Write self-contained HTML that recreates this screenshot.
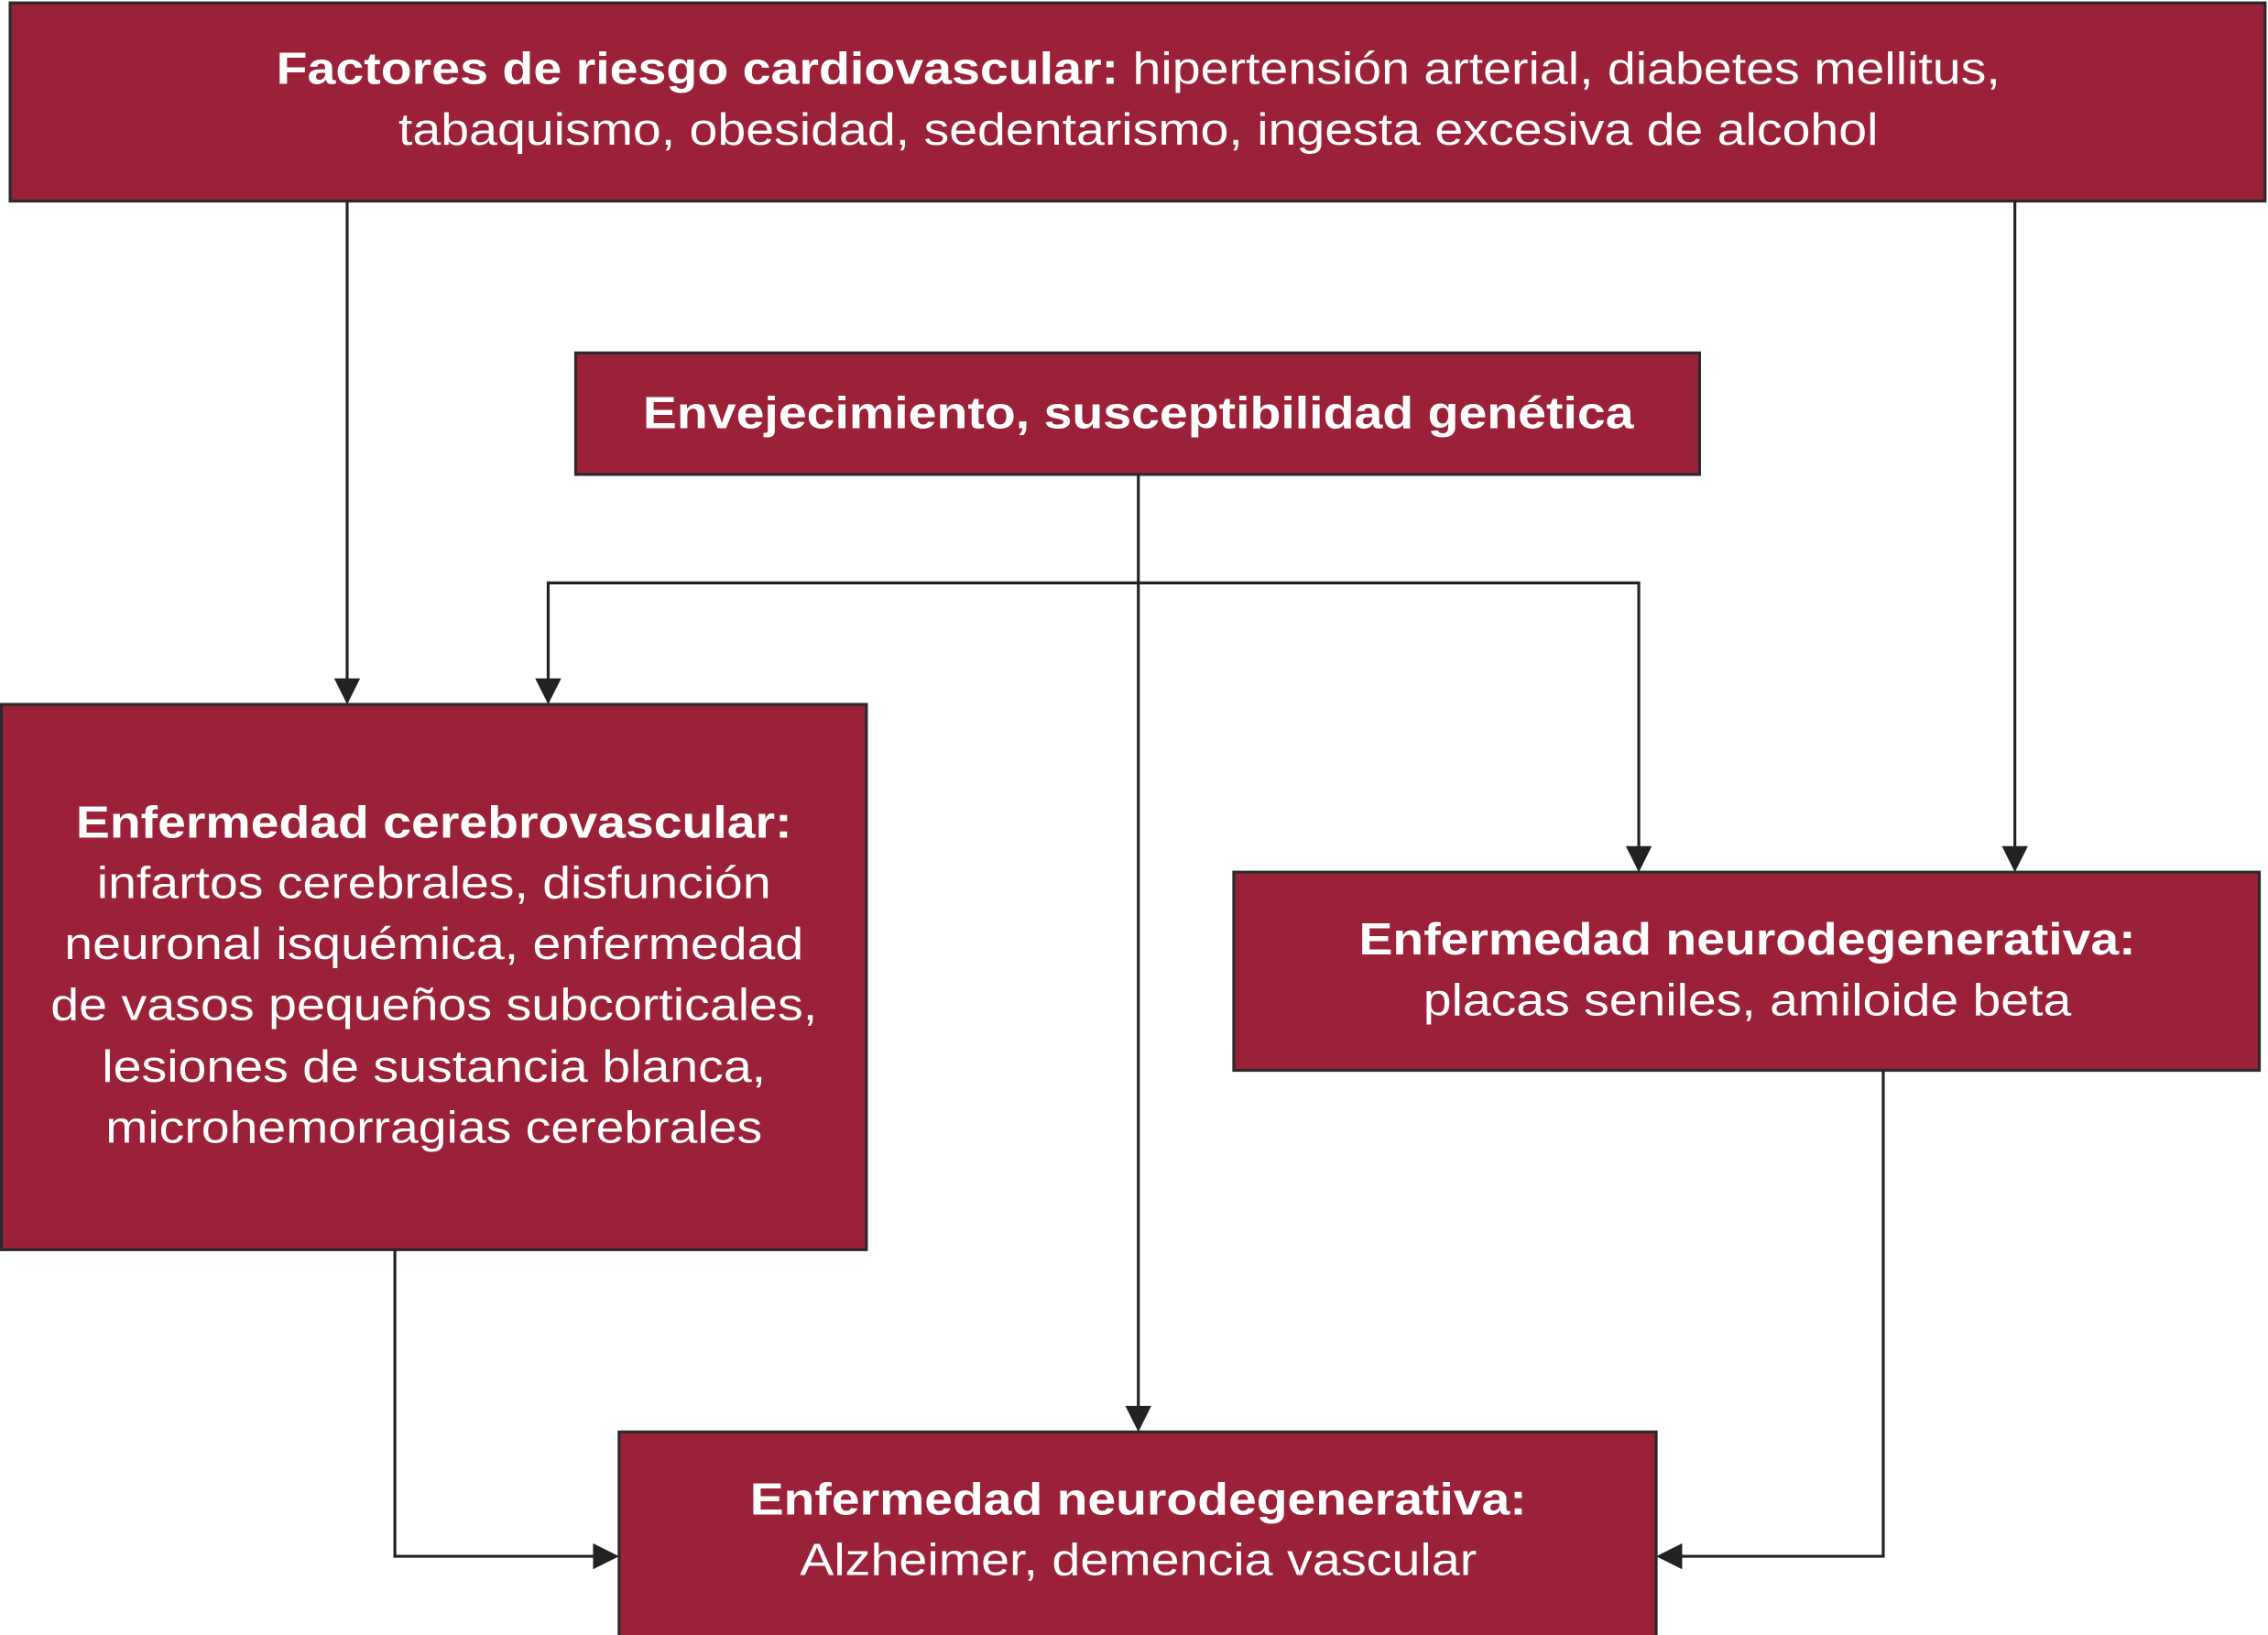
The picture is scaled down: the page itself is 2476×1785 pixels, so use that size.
<!DOCTYPE html>
<html><head><meta charset="utf-8"><style>
html,body{margin:0;padding:0;background:#fff;}
svg{display:block;}
text{font-family:"Liberation Sans",Arial,sans-serif;fill:#fff;font-size:31px;text-anchor:middle;}
.b{font-weight:bold;}
rect{fill:#9b2139;stroke:#2a2a2a;stroke-width:2;}
line,polyline{stroke:#222;stroke-width:2;fill:none;}
polygon{fill:#222;}
</style></head><body>
<svg width="2476" height="1785" viewBox="0 0 1568 1130.4" preserveAspectRatio="none" xmlns="http://www.w3.org/2000/svg">
<rect x="7" y="2" width="1559" height="137"/>
<text x="787" y="58" textLength="1192" lengthAdjust="spacingAndGlyphs"><tspan class="b">Factores de riesgo cardiovascular:</tspan> hipertensión arterial, diabetes mellitus,</text>
<text x="787" y="100" textLength="1023" lengthAdjust="spacingAndGlyphs">tabaquismo, obesidad, sedentarismo, ingesta excesiva de alcohol</text>

<rect x="398" y="244" width="777" height="84"/>
<text class="b" x="787" y="296" textLength="685" lengthAdjust="spacingAndGlyphs">Envejecimiento, susceptibilidad genética</text>

<rect x="1" y="487" width="598" height="377"/>
<text class="b" x="300" y="579" textLength="495" lengthAdjust="spacingAndGlyphs">Enfermedad cerebrovascular:</text>
<text x="300" y="621" textLength="466" lengthAdjust="spacingAndGlyphs">infartos cerebrales, disfunción</text>
<text x="300" y="663" textLength="511" lengthAdjust="spacingAndGlyphs">neuronal isquémica, enfermedad</text>
<text x="300" y="705" textLength="530" lengthAdjust="spacingAndGlyphs">de vasos pequeños subcorticales,</text>
<text x="300" y="748" textLength="459" lengthAdjust="spacingAndGlyphs">lesiones de sustancia blanca,</text>
<text x="300" y="790" textLength="454" lengthAdjust="spacingAndGlyphs">microhemorragias cerebrales</text>

<rect x="853" y="603" width="709" height="137"/>
<text class="b" x="1208" y="660" textLength="537" lengthAdjust="spacingAndGlyphs">Enfermedad neurodegenerativa:</text>
<text x="1208" y="702" textLength="448" lengthAdjust="spacingAndGlyphs">placas seniles, amiloide beta</text>

<rect x="428" y="990" width="717" height="142"/>
<text class="b" x="787" y="1047" textLength="537" lengthAdjust="spacingAndGlyphs">Enfermedad neurodegenerativa:</text>
<text x="787" y="1089" textLength="468" lengthAdjust="spacingAndGlyphs">Alzheimer, demencia vascular</text>

<line x1="240" y1="139" x2="240" y2="470"/>
<polygon points="231,469 249,469 240,487"/>
<line x1="1393" y1="139" x2="1393" y2="586"/>
<polygon points="1384,585 1402,585 1393,603"/>
<line x1="787" y1="328" x2="787" y2="973"/>
<polygon points="778,972 796,972 787,990"/>
<polyline points="379,470 379,403 1133,403 1133,586"/>
<polygon points="370,469 388,469 379,487"/>
<polygon points="1124,585 1142,585 1133,603"/>
<polyline points="273,864 273,1076 411,1076"/>
<polygon points="410,1067 410,1085 428,1076"/>
<polyline points="1302,740 1302,1076 1162,1076"/>
<polygon points="1163,1067 1163,1085 1145,1076"/>
</svg>
</body></html>
